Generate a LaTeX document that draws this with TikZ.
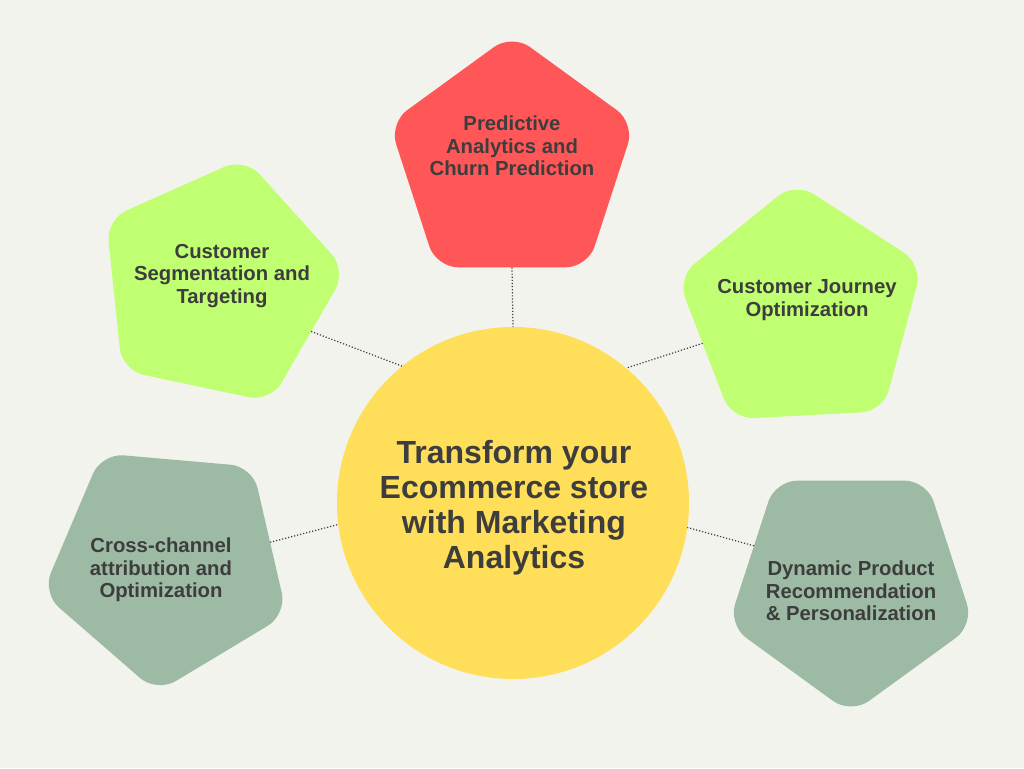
\documentclass[tikz,border=0pt]{standalone}
\usepackage{fontspec}
\setmainfont{Liberation Sans}
\usetikzlibrary{shapes.geometric}
\definecolor{bgcol}{HTML}{F2F3EC}
\definecolor{redpent}{HTML}{FF5757}
\definecolor{limepent}{HTML}{C1FF72}
\definecolor{sagepent}{HTML}{9DBBA4}
\definecolor{suncirc}{HTML}{FFDE59}
\definecolor{inkgrey}{HTML}{3D3D3D}

\begin{document}
\begin{tikzpicture}[x=1pt, y=1pt,
		pent/.style={regular polygon, regular polygon sides=5, minimum size=258pt, inner sep=0pt, outer sep=0pt, rounded corners=22pt},
		boxtext/.style={text=inkgrey, font=\fontsize{20.3}{22.6}\selectfont\bfseries, align=center},
		link/.style={draw=inkgrey, line width=1.2pt, dash pattern=on 1.2pt off 1.9pt}]
			\fill[bgcol] (0,0) rectangle (1024,768);
			% centre circle
			\node[circle, fill=suncirc, minimum size=352pt, inner sep=0pt, outer sep=0pt] (hub) at (513,265) {};
			\node[text=inkgrey, font=\fontsize{32}{35}\selectfont\bfseries, align=center] (hubtext) at (514,260)
				{Transform your\\Ecommerce store\\with Marketing\\Analytics};
			% pentagons
			\node[pent, fill=redpent] (predict) at (512,605) {};
			\node[pent, fill=limepent, shape border rotate=-12] (segment) at (218,484) {};
			\node[pent, fill=limepent, shape border rotate=3] (journey) at (802,457) {};
			\node[pent, fill=sagepent, shape border rotate=31] (crossch) at (168,204) {};
			\node[pent, fill=sagepent, shape border rotate=180] (dynamic) at (851,183) {};
			% labels
			\node[boxtext] (predicttext) at (512,622) {Predictive\\Analytics and\\Churn Prediction};
			\node[boxtext] (segmenttext) at (222,492) {Customer\\Segmentation and\\Targeting};
			\node[boxtext] (journeytext) at (807,468) {Customer Journey\\Optimization};
			\node[boxtext] (crosschtext) at (161,198) {Cross-channel\\attribution and\\Optimization};
			\node[boxtext] (dynamictext) at (851,177) {Dynamic Product\\Recommendation\\\& Personalization};
			% dotted links
			\draw[link] (predict.270) -- (hub.90);
			\draw[link] (segment.-27) -- (hub.129);
			\draw[link] (journey.198) -- (hub.50);
			\draw[link] (crossch.12) -- (hub.187);
			\draw[link] (dynamic.158) -- (hub.352);
		\end{tikzpicture}
\end{document}
